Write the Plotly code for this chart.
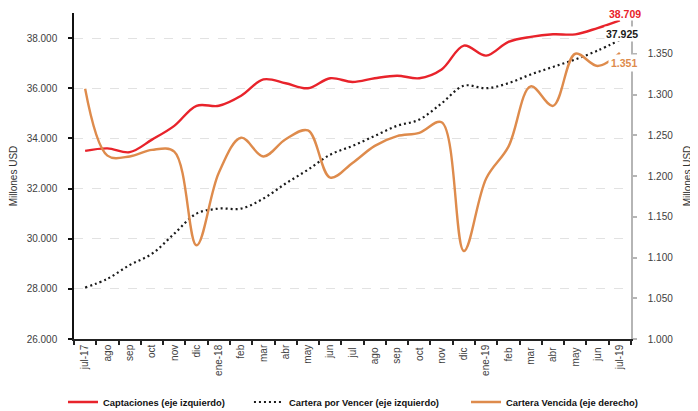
import plotly.graph_objects as go

months = ["jul-17", "ago", "sep", "oct", "nov", "dic", "ene-18", "feb", "mar", "abr", "may", "jun",
          "jul ", "ago ", "sep ", "oct ", "nov ", "dic ", "ene-19", "feb ", "mar ", "abr ", "may ", "jun ", "jul-19"]

captaciones = [33500, 33600, 33450, 33950, 34500, 35300, 35300, 35700, 36350, 36200, 36000, 36400,
               36250, 36400, 36500, 36400, 36750, 37700, 37300, 37850, 38050, 38150, 38150, 38400, 38709]

cartera_por_vencer = [28050, 28400, 28950, 29400, 30200, 31000, 31200, 31200, 31600, 32200, 32750, 33350,
                      33700, 34100, 34500, 34750, 35400, 36100, 36000, 36200, 36550, 36850, 37150, 37500, 37925]

cartera_vencida = [1307, 1225, 1224, 1232, 1230, 1115, 1204, 1247, 1224, 1245, 1256, 1198,
                   1216, 1237, 1249, 1253, 1266, 1108, 1197, 1236, 1310, 1286, 1350, 1335, 1351]

RED = "#E8232B"
ORANGE = "#DE8B4C"
BLACK = "#1a1a1a"
FONT = "Liberation Sans, Arial, sans-serif"

fig = go.Figure()
fig.add_trace(go.Scatter(x=months, y=captaciones, name="Captaciones (eje izquierdo)",
                         mode="lines", line=dict(color=RED, width=2.4, shape="spline", smoothing=1),
                         legend="legend", showlegend=True))
fig.add_trace(go.Scatter(x=months, y=cartera_por_vencer, name="Cartera por Vencer (eje izquierdo)",
                         mode="lines", line=dict(color=BLACK, width=2.2, dash="2px,3px", shape="spline", smoothing=1),
                         legend="legend2", showlegend=True))
fig.add_trace(go.Scatter(x=months, y=cartera_vencida, name="Cartera Vencida (eje derecho)",
                         mode="lines", line=dict(color=ORANGE, width=2.4, shape="spline", smoothing=1),
                         yaxis="y2", legend="legend3", showlegend=True))

leg_font = dict(family=FONT, size=9.4, color="#111111", weight="bold")
common_leg = dict(orientation="h", yanchor="middle", y=0.0223, yref="container",
                  xanchor="left", xref="container",
                  bgcolor="rgba(0,0,0,0)", font=leg_font, itemwidth=30)

# the page body adds an 8px offset, so the figure is 690x403 placed at (8, 8)
fig.update_layout(
    width=690, height=403,
    showlegend=True,
    margin=dict(l=66, r=67, t=5, b=72, autoexpand=False),
    paper_bgcolor="white", plot_bgcolor="white",
    separators=",.",
    font=dict(family=FONT, size=10, color="#404040"),
    legend=dict(common_leg, x=0.0797),
    legend2=dict(common_leg, x=0.3492),
    legend3=dict(common_leg, x=0.6638),
    xaxis=dict(type="category", range=[-0.5, 24.5], showgrid=False, automargin=False,
               showline=True, linecolor="#222222", linewidth=1.5,
               ticks="outside", tickson="boundaries", ticklen=4, tickcolor="#222222", tickwidth=1.5,
               tickangle=-90, tickfont=dict(size=10, color="#404040")),
    yaxis=dict(range=[26000, 39000], dtick=2000, tickformat=",d", automargin=False,
               showline=True, linecolor="#111111", linewidth=1.5,
               ticks="outside", ticklen=4, tickcolor="#111111", tickwidth=1.5,
               ticklabelstandoff=9,
               showgrid=True, gridcolor="#e2e2e2", griddash="dash", gridwidth=1,
               zeroline=False,
               title=dict(text="Millones USD", font=dict(size=10, color="#333333"), standoff=8),
               tickfont=dict(size=10, color="#404040")),
    yaxis2=dict(range=[1000, 1400], dtick=50, tickformat=",d", overlaying="y", side="right",
                automargin=False,
                showline=True, linecolor="#b5b5b5", linewidth=1.5,
                ticks="outside", ticklen=4, tickcolor="#b5b5b5", tickwidth=1.5,
                ticklabelstandoff=9,
                showgrid=False, zeroline=False,
                title=dict(text="Millones USD", font=dict(size=10, color="#333333"), standoff=12),
                tickfont=dict(size=10, color="#404040")),
)

last = len(months) - 1
fig.add_annotation(x=months[last], y=captaciones[last], xref="x", yref="y",
                   text="38.709", showarrow=False, xanchor="center", yanchor="middle",
                   xshift=5, yshift=6, font=dict(size=10.5, color=RED, weight="bold"),
                   bgcolor="white", borderpad=0)
fig.add_annotation(x=months[last], y=cartera_por_vencer[last], xref="x", yref="y",
                   text="37.925", showarrow=False, xanchor="center", yanchor="middle",
                   xshift=2, yshift=6, font=dict(size=10.5, color=BLACK, weight="bold"),
                   bgcolor="white", borderpad=1)
fig.add_annotation(x=months[last], y=cartera_vencida[last], xref="x", yref="y2",
                   text="1.351", showarrow=False, xanchor="center", yanchor="middle",
                   xshift=4, yshift=-10, font=dict(size=10.5, color=ORANGE, weight="bold"),
                   bgcolor="white", borderpad=2)

fig.write_html("out.html")
